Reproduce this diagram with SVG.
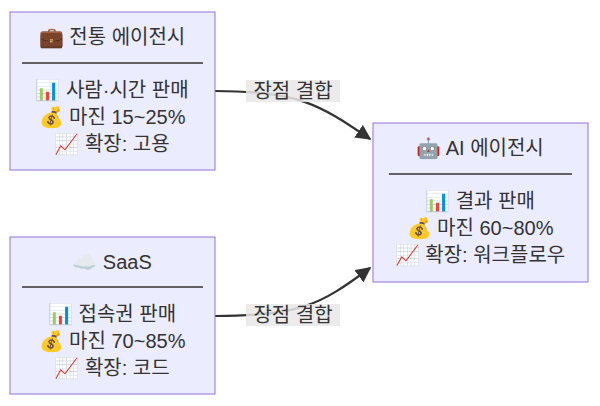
<svg xmlns="http://www.w3.org/2000/svg" width="600" height="406" viewBox="0 0 600 406">
<defs>
<style>
.n{fill:#ECECFF;stroke:#9370DB;stroke-width:1}
.t{font-family:"Liberation Sans","Noto Sans CJK KR",sans-serif;font-size:20px;fill:#333;text-anchor:middle}
.d{stroke:#333;stroke-width:1.3}
.e{fill:none;stroke:#333;stroke-width:2.2}
.lb{fill:#e8e8e8;opacity:0.85}
</style>
<marker id="a" viewBox="0 0 10 10" refX="9" refY="5" markerWidth="7" markerHeight="7" orient="auto"><path d="M0,0L10,5L0,10z" fill="#333"/></marker>
</defs>
<g id="connectors">
<path class="e" d="M215,91 C300,91 320,105 370,139" marker-end="url(#a)"/>
<path class="e" d="M215,316 C300,316 320,305 370,268" marker-end="url(#a)"/>
<rect class="lb" x="246" y="80" width="94" height="22"/>
<text class="t" x="293" y="98">장점 결합</text>
<rect class="lb" x="246" y="304" width="94" height="22"/>
<text class="t" x="293" y="322">장점 결합</text>
</g>
<g id="n1">
<rect class="n" x="10" y="12" width="205" height="158"/>
<text class="t" x="112" y="44">💼 전통 에이전시</text>
<line class="d" x1="22" y1="63" x2="203" y2="63"/>
<text class="t" x="112" y="97">📊 사람·시간 판매</text>
<text class="t" x="112" y="124">💰 마진 15~25%</text>
<text class="t" x="112" y="151">📈 확장: 고용</text>
</g>
<g id="n2">
<rect class="n" x="10" y="237" width="205" height="157"/>
<text class="t" x="112" y="269">☁️ SaaS</text>
<line class="d" x1="22" y1="287" x2="203" y2="287"/>
<text class="t" x="112" y="321">📊 접속권 판매</text>
<text class="t" x="112" y="348">💰 마진 70~85%</text>
<text class="t" x="112" y="375">📈 확장: 코드</text>
</g>
<g id="n3">
<rect class="n" x="373" y="123" width="215" height="159"/>
<text class="t" x="480" y="155">🤖 AI 에이전시</text>
<line class="d" x1="389" y1="174" x2="572" y2="174"/>
<text class="t" x="480" y="208">📊 결과 판매</text>
<text class="t" x="480" y="235">💰 마진 60~80%</text>
<text class="t" x="480" y="262">📈 확장: 워크플로우</text>
</g>
</svg>
